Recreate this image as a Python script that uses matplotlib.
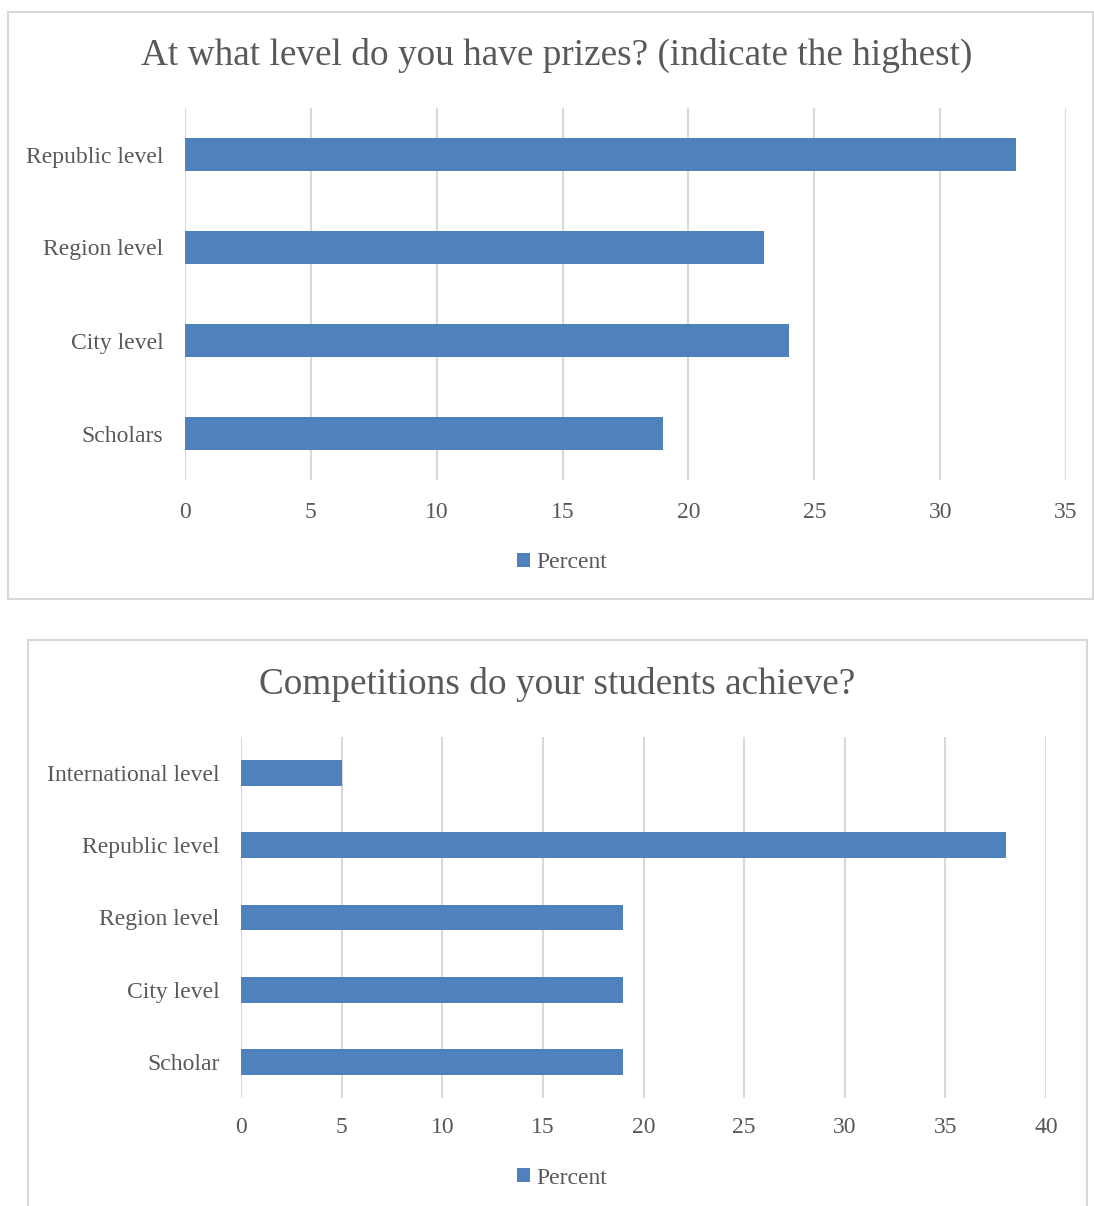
import matplotlib
matplotlib.use("Agg")
import matplotlib.pyplot as plt
from matplotlib.patches import Rectangle, Patch

# Data
cats1 = ["Republic level", "Region level", "City level", "Scholars"]
vals1 = [33, 23, 24, 19]
title1 = "At what level do you have prizes? (indicate the highest)"
ticks1 = [0, 5, 10, 15, 20, 25, 30, 35]

cats2 = ["International level", "Republic level", "Region level", "City level", "Scholar"]
vals2 = [5, 38, 19, 19, 19]
title2 = "Competitions do your students achieve?"
ticks2 = [0, 5, 10, 15, 20, 25, 30, 35, 40]

series_name = "Percent"

BAR = "#4F81BD"
GRID = "#D9D9D9"
TXT = "#595959"
W, H = 1094, 1206
DPI = 100

plt.rcParams['font.family'] = ['Liberation Serif', 'DejaVu Serif']

fig = plt.figure(figsize=(W / DPI, H / DPI), dpi=DPI)


def fx(x):
    return x / W


def fy(y):
    return 1 - y / H


def frame(l, t, r, b):
    fig.patches.append(Rectangle((fx(l), fy(b)), fx(r) - fx(l), fy(t) - fy(b),
                                 transform=fig.transFigure, fill=False,
                                 edgecolor=GRID, linewidth=1.5))


def panel(cats, vals, ticks, title, l, t, r, b, title_y, legend_y, cx, xpad):
    ax = fig.add_axes([fx(l), fy(b), fx(r) - fx(l), fy(t) - fy(b)])
    n = len(cats)
    ypos = list(range(n))
    ax.barh(ypos, vals, height=0.355, color=BAR, zorder=3)
    ax.set_ylim(n - 0.5, -0.5)
    ax.set_xlim(ticks[0], ticks[-1])
    ax.set_xticks(ticks)
    ax.set_xticklabels([str(v) for v in ticks])
    ax.set_yticks(ypos)
    ax.set_yticklabels(cats)
    ax.tick_params(axis='both', length=0, labelsize=17, colors=TXT)
    ax.tick_params(axis='y', pad=15.5)
    ax.tick_params(axis='x', pad=xpad)
    for s in ax.spines.values():
        s.set_visible(False)
    ax.grid(axis='x', color=GRID, linewidth=1.5, zorder=0)
    ax.set_axisbelow(True)
    fig.text(fx(cx), fy(title_y), title, ha='center', va='center',
             fontsize=26.8, color=TXT)
    fig.legend(handles=[Patch(facecolor=BAR, label=series_name)],
               loc='center', bbox_to_anchor=(fx(cx + 5), fy(legend_y)),
               frameon=False, fontsize=17, labelcolor=TXT,
               handlelength=0.55, handleheight=0.55, handletextpad=0.25)
    return ax


frame(8, 12, 1093, 599)
frame(28, 640, 1087, 1215)

panel(cats1, vals1, ticks1, title1, 185, 108, 1066, 480, 55, 563, 557, 16)
panel(cats2, vals2, ticks2, title2, 241, 737, 1046, 1098, 685, 1178, 557, 14)

fig.savefig("out.png", dpi=DPI, facecolor="white")
